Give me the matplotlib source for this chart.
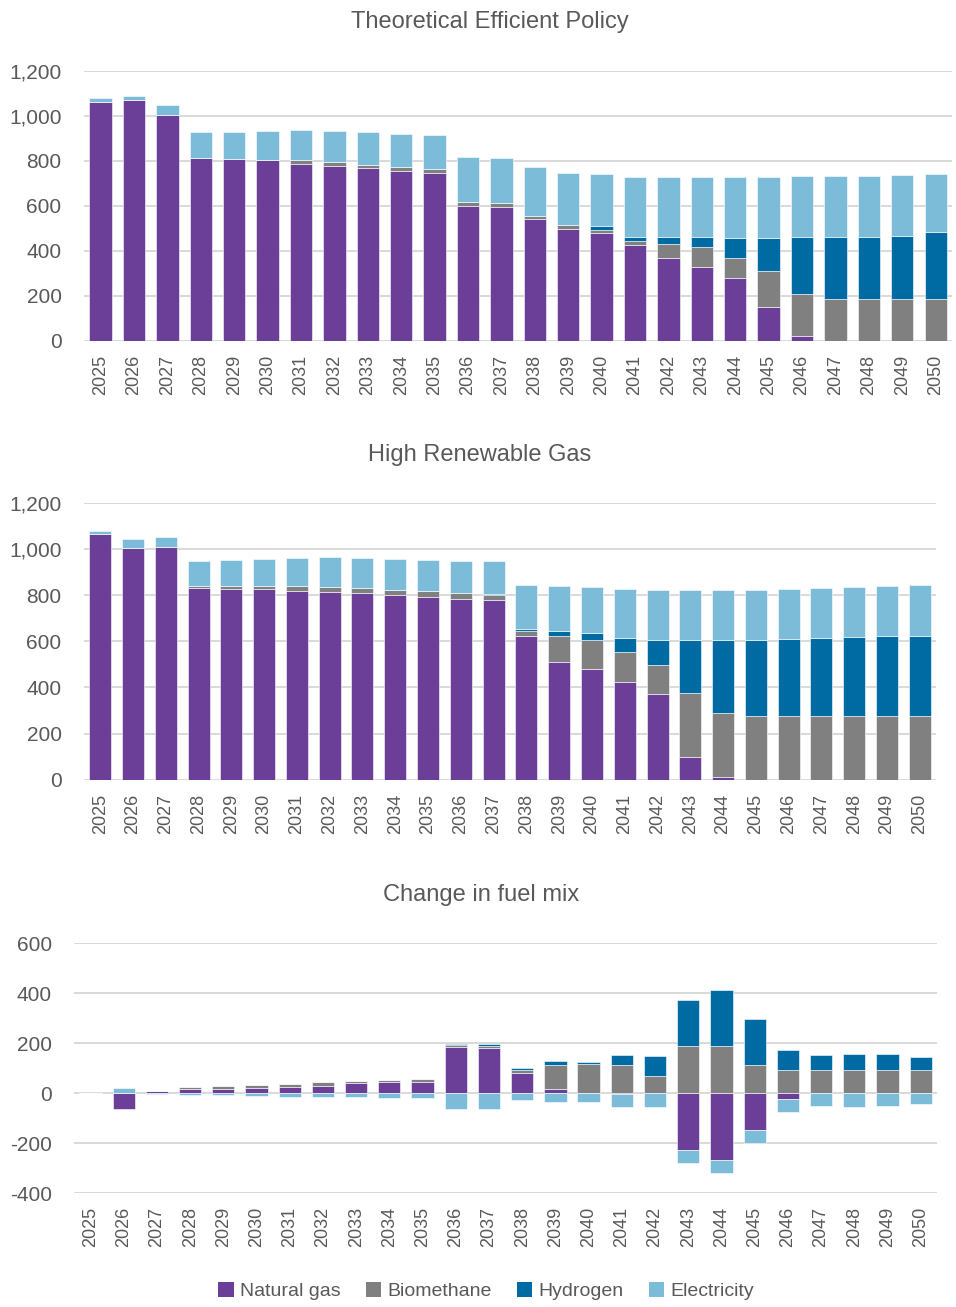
import matplotlib
matplotlib.use("Agg")
import matplotlib.pyplot as plt
from matplotlib.ticker import FuncFormatter, MultipleLocator
from matplotlib.patches import Patch
import numpy as np

years = list(range(2025, 2051))
series_names = ["Natural gas", "Biomethane", "Hydrogen", "Electricity"]
colors = ["#6B3F98", "#808080", "#006BA2", "#7DBCD8"]

# Theoretical Efficient Policy
tep_gas = [1062, 1068, 1003, 813, 807, 804, 787, 778, 766, 756, 747, 600, 596,
           539, 495, 477, 427, 367, 329, 280, 148, 22, 0, 0, 0, 0]
tep_bio = [0, 0, 0, 0, 0, 0, 16, 18, 16, 16, 16, 16, 16,
           15, 19, 16, 16, 63, 87, 86, 163, 184, 185, 185, 185, 185]
tep_h2 = [0, 0, 0, 0, 0, 0, 0, 0, 0, 0, 0, 0, 0,
          0, 2, 18, 19, 32, 46, 92, 147, 256, 277, 277, 282, 297]
tep_elec = [17, 18, 44, 116, 122, 129, 132, 137, 145, 147, 150, 199, 200,
            218, 229, 231, 264, 264, 264, 268, 269, 269, 270, 271, 269, 260]

# High Renewable Gas
hrg_gas = [1067, 1006, 1011, 833, 827, 827, 817, 816, 811, 803, 794, 785, 781,
           622, 512, 479, 425, 370, 100, 13, 0, 0, 0, 0, 0, 0]
hrg_bio = [0, 0, 0, 9, 13, 13, 25, 21, 22, 21, 26, 25, 22,
           23, 113, 127, 129, 127, 277, 275, 276, 276, 276, 276, 276, 276]
hrg_h2 = [0, 0, 0, 0, 0, 0, 0, 0, 0, 0, 0, 0, 3,
          9, 21, 30, 62, 109, 229, 318, 330, 334, 339, 343, 346, 349]
hrg_elec = [13, 39, 42, 107, 112, 117, 120, 128, 129, 132, 132, 139, 141,
            189, 194, 200, 210, 216, 216, 217, 218, 217, 215, 216, 217, 218]

# Change in fuel mix
chg_gas = [0, -64, 8, 17, 17, 22, 27, 30, 43, 44, 47, 187, 182,
           83, 16, 2, -2, 3, -227, -267, -147, -23, 0, 0, 0, 0]
chg_bio = [0, 0, 0, 9, 13, 13, 10, 14, 7, 9, 10, 6, 6,
           10, 97, 114, 112, 67, 189, 189, 113, 92, 92, 92, 92, 92]
chg_h2 = [0, 0, 0, 0, 0, 0, 0, 0, 0, 0, 0, 5, 9,
          7, 16, 10, 41, 78, 183, 223, 183, 80, 61, 64, 66, 54]
chg_elec = [0, 22, -2, -5, -8, -11, -13, -14, -16, -18, -20, -62, -62,
            -27, -36, -36, -54, -53, -52, -52, -53, -53, -52, -53, -52, -42]

TEXT = "#595959"
GRID = "#d9d9d9"
FONT = ["Liberation Sans", "DejaVu Sans"]

W, H = 956, 1307
fig = plt.figure(figsize=(W / 100, H / 100), dpi=100)


def px_axes(left, right, top, bottom):
    return fig.add_axes([left / W, 1 - bottom / H, (right - left) / W, (bottom - top) / H])


def stacked(ax, data, ylim, step):
    x = np.arange(len(years))
    pos = np.zeros(len(years))
    neg = np.zeros(len(years))
    for vals, c in zip(data, colors):
        v = np.array(vals, dtype=float)
        base = np.where(v >= 0, pos, neg)
        ax.bar(x, v, bottom=base, width=0.67, color=c, edgecolor="white",
               linewidth=0.4, zorder=3)
        pos = pos + np.where(v > 0, v, 0)
        neg = neg + np.where(v < 0, v, 0)
    ax.set_xlim(-0.5, len(years) - 0.5)
    ax.set_ylim(*ylim)
    ax.yaxis.set_major_locator(MultipleLocator(step))
    ax.yaxis.set_major_formatter(FuncFormatter(lambda v, p: f"{v:,.0f}"))
    ax.grid(axis="y", color=GRID, linewidth=1.4, zorder=0)
    ax.set_axisbelow(True)
    for s in ax.spines.values():
        s.set_visible(False)
    ax.set_xticks(x)
    ax.set_xticklabels([str(y) for y in years], rotation=90, family=FONT,
                       fontsize=13, color=TEXT)
    ax.tick_params(axis="both", length=0)
    ax.tick_params(axis="x", pad=10)
    ax.tick_params(axis="y", pad=16, labelsize=15, labelcolor=TEXT)
    for lab in ax.get_yticklabels():
        lab.set_family(FONT)


ax1 = px_axes(83.8, 952.4, 70.7, 340.7)
stacked(ax1, [tep_gas, tep_bio, tep_h2, tep_elec], (0, 1200), 200)

ax2 = px_axes(83.8, 936.2, 503, 779.7)
stacked(ax2, [hrg_gas, hrg_bio, hrg_h2, hrg_elec], (0, 1200), 200)

ax3 = px_axes(73.9, 937.3, 943.3, 1193.3)
stacked(ax3, [chg_gas, chg_bio, chg_h2, chg_elec], (-400, 600), 200)

titles = [("Theoretical Efficient Policy", 489.5, 22),
          ("High Renewable Gas", 480, 455),
          ("Change in fuel mix", 481, 895)]
for t, x, y in titles:
    fig.text(x / W, 1 - y / H, t, ha="center", va="center", family=FONT,
             fontsize=17, color=TEXT)

handles = [Patch(facecolor=c, edgecolor="none", label=n) for n, c in zip(series_names, colors)]
leg = fig.legend(handles=handles, loc="center", bbox_to_anchor=(486 / W, 1 - 1291 / H),
                 ncol=4, frameon=False, handlelength=0.8, handleheight=0.8,
                 handletextpad=0.3, columnspacing=1.3,
                 prop={"family": FONT, "size": 14})
for txt in leg.get_texts():
    txt.set_color(TEXT)

fig.savefig("out.png", dpi=100)
